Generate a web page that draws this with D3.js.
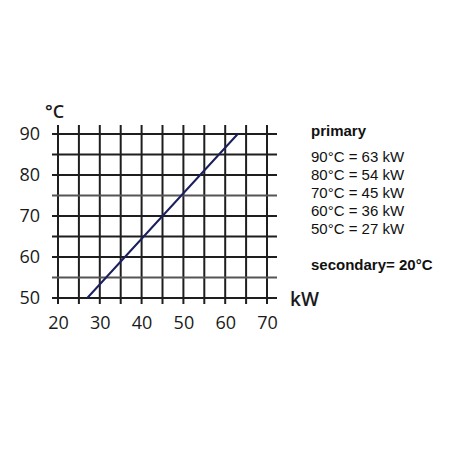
<!DOCTYPE html>
<html>
<head>
<meta charset="utf-8">
<script src="https://cdn.jsdelivr.net/npm/d3@7"></script>
<style>
  body { margin: 0; background: #fff; }
  .tick text { font-family: "Open Sans", sans-serif; font-size: 18px; fill: #1a1a1a; }
  .legend text { font-family: "Liberation Sans", Arial, sans-serif; font-size: 15px; fill: #111; }
</style>
</head>
<body>
<script>
// axis values
const kwTicks = [20, 30, 40, 50, 60, 70]
const tempTicks = [50, 60, 70, 80, 90]
const kwGrid = [20, 25, 30, 35, 40, 45, 50, 55, 60, 65, 70]
const tempGrid = [50, 55, 60, 65, 70, 75, 80, 85, 90]
const greyGrid = [55, 75]

// primary series: temperature -> power
const primaryTemps = [90, 80, 70, 60, 50]
const primaryKw = [63, 54, 45, 36, 27]
const secondaryTemp = 20

var width = 450, height = 450;

var svg = d3.select("body").append("svg")
    .attr("width", width)
    .attr("height", height);

var x = d3.scaleLinear().domain([20, 70]).range([58, 267]);
var y = d3.scaleLinear().domain([50, 90]).range([298, 134]);

// grid
svg.selectAll(".vgrid")
    .data(kwGrid)
    .enter()
    .append("line")
    .attr("x1", d => x(d)).attr("x2", d => x(d))
    .attr("y1", y(90) - 9).attr("y2", y(50) + 6)
    .attr("stroke", "#1e1e1e")
    .attr("stroke-width", 2);

svg.selectAll(".hgrid")
    .data(tempGrid)
    .enter()
    .append("line")
    .attr("x1", x(20) - 6).attr("x2", x(70) + 10)
    .attr("y1", d => y(d)).attr("y2", d => y(d))
    .attr("stroke", d => greyGrid.includes(d) ? "#555" : "#1e1e1e")
    .attr("stroke-width", 2);

// tick labels
var yAxis = d3.axisLeft(y).tickValues(tempTicks).tickSize(0).tickPadding(18);
var xAxis = d3.axisBottom(x).tickValues(kwTicks).tickSize(0).tickPadding(18);

svg.append("g")
    .attr("transform", "translate(" + x(20) + ",0)")
    .call(yAxis)
    .call(g => g.select(".domain").remove());

svg.append("g")
    .attr("transform", "translate(0," + y(50) + ")")
    .call(xAxis)
    .call(g => g.select(".domain").remove());

// unit labels
svg.append("text")
    .attr("x", 45).attr("y", 118)
    .style("font-family", "Open Sans, sans-serif")
    .style("font-size", "18px")
    .style("font-weight", "600")
    .attr("fill", "#1a1a1a")
    .text("°C");

svg.append("text")
    .attr("x", 290).attr("y", 306)
    .style("font-family", "Open Sans, sans-serif")
    .style("font-size", "19px")
    .style("font-weight", "600")
    .attr("fill", "#1a1a1a")
    .text("kW");

// primary line
var pts = primaryTemps.map((t, i) => ({ temp: t, kw: primaryKw[i] }));
var line = d3.line()
    .x(d => x(d.kw))
    .y(d => y(d.temp));

svg.append("path")
    .datum(pts)
    .attr("d", line)
    .attr("fill", "none")
    .attr("stroke", "#1b1f5e")
    .attr("stroke-width", 2);

// legend
var legend = svg.append("g").attr("class", "legend");

legend.append("text")
    .attr("x", 311).attr("y", 136)
    .style("font-weight", "bold")
    .text("primary");

legend.selectAll(".row")
    .data(pts)
    .enter()
    .append("text")
    .attr("x", 311)
    .attr("y", (d, i) => 162 + i * 18)
    .text(d => d.temp + "°C = " + d.kw + " kW");

legend.append("text")
    .attr("x", 311).attr("y", 270)
    .style("font-weight", "bold")
    .text("secondary= " + secondaryTemp + "°C");
</script>
</body>
</html>
